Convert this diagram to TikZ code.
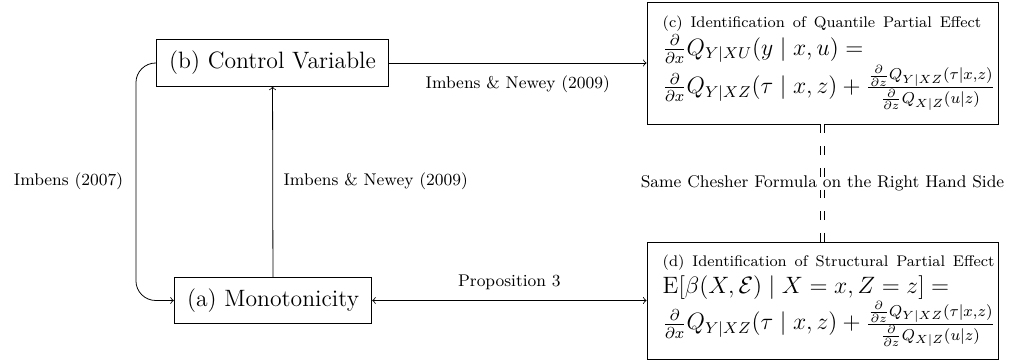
\documentclass[tikz,border=0pt]{standalone}
\usepackage{amsmath,amssymb}
\usepackage{tikz}

\begin{document}
\begin{tikzpicture}[x=0.507pt, y=-0.507pt,
	box/.style={draw, inner xsep=6.5pt, minimum height=23.5pt, font=\large},
	result/.style={draw, align=left, font=\large, text width=162pt, inner xsep=8pt, inner ysep=4pt},
	lbl/.style={font=\fontsize{8.6pt}{10pt}\selectfont}]
	\useasboundingbox (0,0) rectangle (1010,363);
	\node[box, minimum width=117.1pt] (ctrl) at (272.5,63) {(b) Control Variable};
	\node[box, minimum width=99.4pt] (mono) at (273,300.5) {(a) Monotonicity};
	\node[result, minimum height=61.9pt] (qpe) at (822.5,63) {{\fontsize{7.8pt}{9.5pt}\selectfont\mbox{(c) Identification of Quantile Partial Effect}}\\
		\mbox{$\frac{\partial}{\partial x}Q_{Y|XU}(y\mid x,u) =$}\\
		\mbox{$\frac{\partial}{\partial x}Q_{Y|XZ}(\tau\mid x,z) + \frac{\frac{\partial}{\partial z}Q_{Y|XZ}(\tau|x,z)}{\frac{\partial}{\partial z}Q_{X|Z}(u|z)}$}};
	\node[result, minimum height=59.3pt] (spe) at (822.5,300.5) {{\fontsize{7.8pt}{9.5pt}\selectfont\mbox{(d) Identification of Structural Partial Effect}}\\
		\mbox{$\mathrm{E}[\beta(X,\mathcal{E})\mid X=x, Z=z] =$}\\
		\mbox{$\frac{\partial}{\partial x}Q_{Y|XZ}(\tau\mid x,z) + \frac{\frac{\partial}{\partial z}Q_{Y|XZ}(\tau|x,z)}{\frac{\partial}{\partial z}Q_{X|Z}(u|z)}$}};
	\draw[->] (ctrl) -- node[lbl, below=3pt] {Imbens \& Newey (2009)} (qpe);
	\draw[->] (mono) -- node[lbl, right=2pt] {Imbens \& Newey (2009)} (ctrl);
	\draw[->, rounded corners=10pt] (ctrl.west) -- ++(-20,0) |- node[pos=0.25, lbl, left=3pt] {Imbens (2007)} (mono.west);
	\draw[<->] (mono) -- node[lbl, above=2pt] {Proposition 3} (spe);
	\draw[double, double distance=1.6pt, dash pattern=on 4.5pt off 6.5pt] (qpe) -- node[lbl] {Same Chesher Formula on the Right Hand Side} (spe);
\end{tikzpicture}
\end{document}
